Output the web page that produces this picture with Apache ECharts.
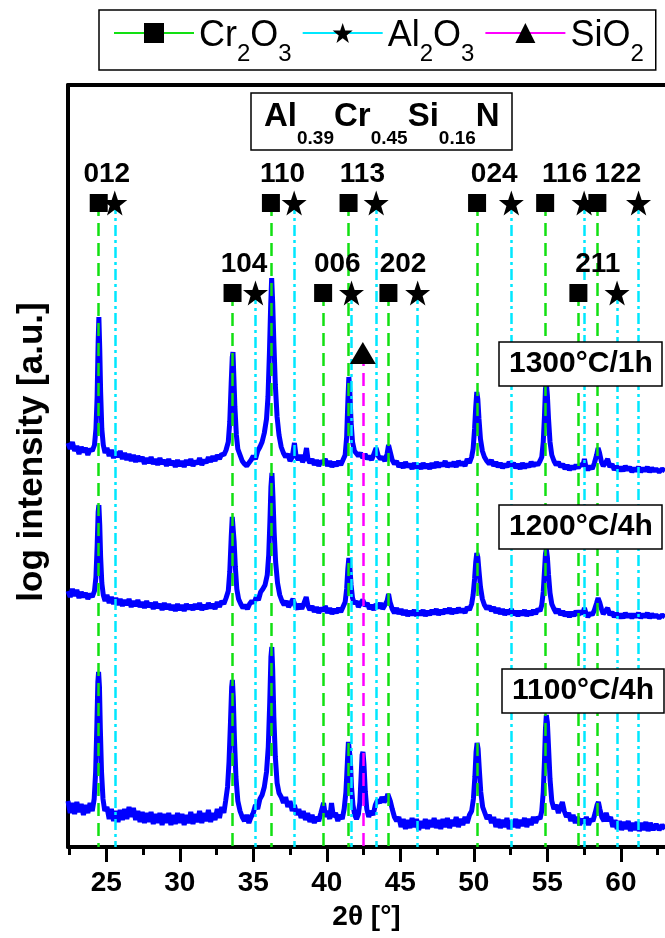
<!DOCTYPE html>
<html lang="en">
<head>
    <meta charset="UTF-8">
    <title>xrd_alcrsin</title>
    <style type="text/css">
        html, body { margin: 0; padding: 0; background: #fff; }
        #box { width: 665px; height: 938px; }
    </style>
</head>
<body>
<div id="box"></div>
<script type="text/javascript" src="https://cdn.jsdelivr.net/npm/echarts@6/dist/echarts.min.js"></script>
<script type="text/javascript">
    // reflex positions (2theta, deg)
    const upperHkl = ['012', '110', '113', '024', '116', '122'];
    const upperCr = [24.49, 36.20, 41.48, 50.22, 54.85, 58.40];
    const upperAl = [25.58, 37.78, 43.36, 52.55, 57.50, 61.20];
    const lowerHkl = ['104', '006', '202', '211'];
    const lowerCr = [33.59, 39.75, 44.19, 57.11];
    const lowerAl = [35.15, 41.68, 46.18, 59.74];
    const siO2Peaks = [42.45];

    const phaseNames = ['Cr2O3', 'Al2O3', 'SiO2'];
    const sampleNames = ['1300°C/1h', '1200°C/4h', '1100°C/4h'];
    const coating = 'Al0.39Cr0.45Si0.16N';
    const xTicks = [25, 30, 35, 40, 45, 50, 55, 60];
    const xMinorTicks = [22.5, 27.5, 32.5, 37.5, 42.5, 47.5, 52.5, 57.5, 62.5];

    // patterns, [2theta, shifted log intensity]
    const c1300 = [[22.40,404],[22.55,398],[22.70,405],[22.85,396],[23.00,401],[23.15,393],[23.30,400],[23.45,395],[23.60,399],[23.75,392],[23.90,398],[24.05,396],[24.20,402],[24.30,418],[24.38,450],[24.45,505],[24.50,530],[24.56,498],[24.62,455],[24.70,418],[24.80,402],[24.92,394],[25.05,399],[25.20,391],[25.35,397],[25.50,389],[25.65,395],[25.80,390],[25.95,396],[26.10,388],[26.25,394],[26.40,387],[26.55,393],[26.70,386],[26.85,392],[27.00,385],[27.15,391],[27.30,386],[27.45,390],[27.60,383],[27.75,389],[27.90,384],[28.05,390],[28.20,383],[28.35,388],[28.50,382],[28.65,389],[28.80,383],[28.95,387],[29.10,381],[29.25,388],[29.40,382],[29.55,386],[29.70,380],[29.85,387],[30.00,381],[30.15,386],[30.30,380],[30.45,387],[30.60,382],[30.75,388],[30.90,381],[31.05,386],[31.20,383],[31.35,389],[31.50,382],[31.65,387],[31.80,384],[31.95,390],[32.10,385],[32.25,391],[32.40,386],[32.55,392],[32.70,388],[32.85,393],[33.00,392],[33.15,397],[33.30,405],[33.40,425],[33.50,465],[33.57,490],[33.62,495],[33.68,470],[33.75,440],[33.85,412],[33.95,398],[34.10,392],[34.25,386],[34.40,383],[34.55,381],[34.70,384],[34.85,387],[35.00,391],[35.15,388],[35.30,396],[35.45,400],[35.60,405],[35.75,414],[35.90,428],[36.00,450],[36.10,495],[36.18,540],[36.25,569],[36.32,545],[36.40,505],[36.50,462],[36.62,430],[36.75,412],[36.90,400],[37.05,394],[37.20,390],[37.35,393],[37.50,386],[37.65,390],[37.80,404],[37.90,392],[38.05,387],[38.20,392],[38.35,385],[38.50,389],[38.62,399],[38.72,388],[38.85,384],[39.00,388],[39.15,382],[39.30,387],[39.45,381],[39.60,386],[39.75,384],[39.90,388],[40.05,381],[40.20,386],[40.35,380],[40.50,385],[40.65,381],[40.80,386],[40.95,382],[41.10,387],[41.25,392],[41.35,410],[41.43,445],[41.50,470],[41.57,455],[41.65,425],[41.75,405],[41.88,396],[42.00,398],[42.15,391],[42.30,394],[42.45,389],[42.60,393],[42.75,388],[42.90,391],[43.05,387],[43.20,393],[43.35,399],[43.50,391],[43.65,388],[43.80,390],[43.95,386],[44.10,393],[44.20,402],[44.30,396],[44.45,387],[44.60,383],[44.75,386],[44.90,380],[45.05,384],[45.20,379],[45.35,385],[45.50,380],[45.65,383],[45.80,378],[45.95,384],[46.10,379],[46.25,383],[46.40,378],[46.55,384],[46.70,379],[46.85,383],[47.00,378],[47.15,384],[47.30,379],[47.45,385],[47.60,380],[47.75,384],[47.90,381],[48.05,386],[48.20,380],[48.35,384],[48.50,381],[48.65,385],[48.80,380],[48.95,386],[49.10,382],[49.25,385],[49.40,381],[49.55,388],[49.70,384],[49.85,390],[49.95,398],[50.05,418],[50.13,440],[50.20,455],[50.27,448],[50.35,428],[50.45,408],[50.58,396],[50.72,390],[50.88,386],[51.05,383],[51.20,387],[51.35,381],[51.50,385],[51.65,380],[51.80,384],[51.95,379],[52.10,383],[52.25,380],[52.40,385],[52.55,381],[52.70,384],[52.85,379],[53.00,383],[53.15,378],[53.30,384],[53.45,379],[53.60,383],[53.75,380],[53.90,385],[54.05,381],[54.20,384],[54.35,382],[54.50,386],[54.62,390],[54.72,405],[54.80,430],[54.87,458],[54.93,464],[55.00,452],[55.08,428],[55.18,405],[55.30,392],[55.45,386],[55.60,382],[55.75,385],[55.90,380],[56.05,383],[56.20,378],[56.35,382],[56.50,377],[56.65,381],[56.80,378],[56.95,382],[57.10,379],[57.25,383],[57.40,381],[57.52,388],[57.62,380],[57.75,377],[57.90,381],[58.05,378],[58.20,384],[58.35,392],[58.45,399],[58.55,394],[58.68,385],[58.80,381],[58.95,384],[59.10,388],[59.25,380],[59.40,383],[59.55,377],[59.70,381],[59.85,376],[60.00,380],[60.15,376],[60.30,381],[60.45,377],[60.60,380],[60.75,375],[60.90,379],[61.05,376],[61.20,380],[61.35,375],[61.50,379],[61.65,376],[61.80,380],[61.95,375],[62.10,379],[62.25,376],[62.40,378],[62.60,375],[62.80,378],[63.00,376]];

    const c1200 = [[22.40,256],[22.55,250],[22.70,258],[22.85,251],[23.00,257],[23.15,249],[23.30,255],[23.45,250],[23.60,254],[23.75,248],[23.90,253],[24.05,250],[24.20,256],[24.30,270],[24.38,300],[24.45,335],[24.50,342],[24.56,322],[24.62,290],[24.70,264],[24.80,252],[24.92,246],[25.05,252],[25.20,244],[25.35,250],[25.50,243],[25.65,249],[25.80,242],[25.95,248],[26.10,241],[26.25,247],[26.40,242],[26.55,248],[26.70,240],[26.85,246],[27.00,241],[27.15,247],[27.30,240],[27.45,245],[27.60,239],[27.75,246],[27.90,240],[28.05,244],[28.20,238],[28.35,245],[28.50,239],[28.65,243],[28.80,237],[28.95,244],[29.10,238],[29.25,243],[29.40,237],[29.55,242],[29.70,236],[29.85,243],[30.00,237],[30.15,242],[30.30,236],[30.45,243],[30.60,238],[30.75,242],[30.90,237],[31.05,243],[31.20,238],[31.35,244],[31.50,237],[31.65,242],[31.80,238],[31.95,244],[32.10,239],[32.25,243],[32.40,238],[32.55,245],[32.70,240],[32.85,246],[33.00,243],[33.15,249],[33.30,256],[33.40,275],[33.50,310],[33.57,330],[33.63,332],[33.70,305],[33.78,280],[33.88,258],[34.00,248],[34.15,243],[34.30,239],[34.45,242],[34.60,238],[34.75,243],[34.90,246],[35.05,244],[35.20,250],[35.35,247],[35.50,255],[35.65,258],[35.80,262],[35.95,272],[36.05,292],[36.13,325],[36.20,360],[36.27,374],[36.34,350],[36.42,315],[36.52,285],[36.65,264],[36.80,252],[36.95,246],[37.10,242],[37.25,246],[37.40,240],[37.55,244],[37.70,248],[37.85,241],[38.00,238],[38.15,243],[38.30,238],[38.45,244],[38.60,250],[38.72,241],[38.85,237],[39.00,241],[39.15,235],[39.30,240],[39.45,234],[39.60,239],[39.75,236],[39.90,241],[40.05,234],[40.20,239],[40.35,233],[40.50,238],[40.65,234],[40.80,239],[40.95,235],[41.10,240],[41.25,245],[41.35,258],[41.43,278],[41.50,289],[41.57,280],[41.65,262],[41.75,249],[41.88,243],[42.00,246],[42.15,240],[42.30,244],[42.45,247],[42.60,241],[42.75,244],[42.90,238],[43.05,242],[43.20,237],[43.35,243],[43.50,239],[43.65,244],[43.80,238],[43.95,242],[44.10,246],[44.20,253],[44.30,245],[44.45,238],[44.60,234],[44.75,239],[44.90,233],[45.05,238],[45.20,232],[45.35,237],[45.50,231],[45.65,236],[45.80,232],[45.95,237],[46.10,231],[46.25,236],[46.40,232],[46.55,237],[46.70,231],[46.85,236],[47.00,232],[47.15,237],[47.30,233],[47.45,238],[47.60,232],[47.75,237],[47.90,233],[48.05,238],[48.20,234],[48.35,239],[48.50,233],[48.65,238],[48.80,234],[48.95,239],[49.10,235],[49.25,238],[49.40,234],[49.55,240],[49.70,237],[49.85,243],[49.95,252],[50.05,268],[50.13,285],[50.20,294],[50.27,290],[50.35,276],[50.45,260],[50.58,248],[50.72,242],[50.88,238],[51.05,241],[51.20,236],[51.35,240],[51.50,234],[51.65,239],[51.80,233],[51.95,238],[52.10,232],[52.25,237],[52.40,233],[52.55,238],[52.70,232],[52.85,236],[53.00,231],[53.15,236],[53.30,232],[53.45,237],[53.60,231],[53.75,236],[53.90,232],[54.05,237],[54.20,233],[54.35,238],[54.50,236],[54.62,242],[54.72,255],[54.80,275],[54.87,293],[54.93,298],[55.00,290],[55.08,272],[55.18,254],[55.30,243],[55.45,238],[55.60,234],[55.75,238],[55.90,232],[56.05,236],[56.20,231],[56.35,235],[56.50,230],[56.65,235],[56.80,231],[56.95,236],[57.10,232],[57.25,236],[57.40,233],[57.52,239],[57.62,234],[57.75,230],[57.90,234],[58.05,232],[58.20,237],[58.35,244],[58.45,249],[58.55,245],[58.68,238],[58.80,233],[58.95,236],[59.10,239],[59.25,232],[59.40,235],[59.55,230],[59.70,234],[59.85,229],[60.00,233],[60.15,229],[60.30,234],[60.45,230],[60.60,233],[60.75,229],[60.90,233],[61.05,230],[61.20,234],[61.35,229],[61.50,233],[61.65,230],[61.80,234],[61.95,229],[62.10,233],[62.25,230],[62.40,232],[62.60,229],[62.80,232],[63.00,230]];

    const c1100 = [[22.40,46],[22.55,34],[22.70,44],[22.85,33],[23.00,45],[23.15,35],[23.30,43],[23.45,32],[23.60,42],[23.75,34],[23.90,44],[24.05,36],[24.18,48],[24.28,75],[24.36,120],[24.43,165],[24.48,175],[24.54,160],[24.60,118],[24.68,75],[24.78,48],[24.90,36],[25.05,40],[25.20,28],[25.35,38],[25.50,26],[25.65,36],[25.80,25],[25.95,37],[26.10,27],[26.25,38],[26.40,28],[26.55,40],[26.70,30],[26.85,39],[27.00,27],[27.15,36],[27.30,25],[27.45,35],[27.60,24],[27.75,34],[27.90,25],[28.05,35],[28.20,23],[28.35,33],[28.50,24],[28.65,34],[28.80,22],[28.95,33],[29.10,24],[29.25,34],[29.40,22],[29.55,32],[29.70,23],[29.85,34],[30.00,24],[30.15,33],[30.30,22],[30.45,32],[30.60,24],[30.75,35],[30.90,23],[31.05,33],[31.20,25],[31.35,36],[31.50,24],[31.65,34],[31.80,26],[31.95,37],[32.10,25],[32.25,34],[32.40,27],[32.55,38],[32.70,29],[32.85,40],[33.00,34],[33.12,46],[33.25,60],[33.35,85],[33.45,125],[33.53,160],[33.58,167],[33.64,150],[33.72,108],[33.82,70],[33.95,46],[34.10,36],[34.25,30],[34.40,26],[34.55,32],[34.70,24],[34.85,30],[35.00,34],[35.15,42],[35.30,38],[35.45,48],[35.60,52],[35.75,60],[35.90,75],[36.02,100],[36.12,145],[36.20,190],[36.26,200],[36.32,178],[36.40,130],[36.50,90],[36.62,64],[36.75,54],[36.90,50],[37.05,44],[37.20,50],[37.35,40],[37.50,46],[37.65,36],[37.80,42],[37.95,32],[38.10,38],[38.25,29],[38.40,36],[38.55,27],[38.70,34],[38.85,25],[39.00,32],[39.15,24],[39.30,30],[39.45,26],[39.60,34],[39.78,44],[39.92,30],[40.05,36],[40.20,28],[40.32,44],[40.45,30],[40.60,34],[40.75,26],[40.90,32],[41.05,28],[41.18,38],[41.30,55],[41.40,85],[41.47,105],[41.53,107],[41.60,88],[41.68,60],[41.78,42],[41.90,32],[42.02,28],[42.15,33],[42.25,45],[42.33,70],[42.40,92],[42.46,95],[42.53,82],[42.62,55],[42.72,38],[42.85,30],[43.00,36],[43.15,32],[43.30,42],[43.45,47],[43.60,44],[43.75,50],[43.90,45],[44.05,48],[44.15,53],[44.22,55],[44.32,46],[44.45,38],[44.60,30],[44.75,26],[44.90,30],[45.05,20],[45.20,28],[45.35,18],[45.50,27],[45.65,19],[45.80,29],[45.95,20],[46.10,28],[46.25,17],[46.40,26],[46.55,19],[46.70,28],[46.85,18],[47.00,27],[47.15,20],[47.30,29],[47.45,19],[47.60,27],[47.75,18],[47.90,28],[48.05,20],[48.20,29],[48.35,19],[48.50,27],[48.65,21],[48.80,30],[48.95,20],[49.10,28],[49.25,22],[49.40,30],[49.55,24],[49.70,32],[49.85,36],[49.97,48],[50.07,70],[50.15,95],[50.22,104],[50.29,98],[50.37,78],[50.47,55],[50.60,40],[50.75,34],[50.90,28],[51.05,32],[51.20,24],[51.35,30],[51.50,20],[51.65,28],[51.80,19],[51.95,27],[52.10,20],[52.25,29],[52.40,18],[52.55,26],[52.70,20],[52.85,28],[53.00,19],[53.15,27],[53.30,21],[53.45,29],[53.60,20],[53.75,28],[53.90,22],[54.05,30],[54.20,24],[54.35,30],[54.50,28],[54.62,36],[54.72,55],[54.80,85],[54.87,118],[54.93,132],[55.00,125],[55.08,100],[55.18,68],[55.30,46],[55.45,38],[55.60,42],[55.75,34],[55.90,40],[56.02,45],[56.15,36],[56.30,30],[56.45,34],[56.60,26],[56.75,32],[56.90,24],[57.05,30],[57.20,22],[57.35,28],[57.50,24],[57.65,30],[57.80,22],[57.95,28],[58.10,26],[58.25,34],[58.38,42],[58.47,45],[58.57,38],[58.70,30],[58.85,26],[59.00,34],[59.15,26],[59.30,30],[59.45,20],[59.60,27],[59.75,18],[59.90,26],[60.05,17],[60.20,25],[60.35,18],[60.50,26],[60.65,16],[60.80,24],[60.95,17],[61.10,25],[61.25,16],[61.40,24],[61.55,17],[61.70,25],[61.85,16],[62.00,24],[62.20,17],[62.40,23],[62.60,17],[62.80,22],[63.00,18]];

    const FONT = '"Liberation Sans", Arial, Helvetica, sans-serif';
    const STAR = 'path://M12,0 L14.9,8.3 L23.6,8.3 L16.6,13.5 L19.2,21.8 L12,16.7 L4.8,21.8 L7.4,13.5 L0.4,8.3 L9.1,8.3 Z';
    const UPPER_ROW = 644, LOWER_ROW = 554, SIO2_ROW = 494;
    const GREEN = '#12e012', CYAN = '#00e8ff', MAGENTA = '#ff00ff';

    // chemistry text -> rich text with subscripts
    function subs(txt) {
        return txt.split(/([\d.]+)/).filter(Boolean).map(function (p) {
            return /^[\d.]+$/.test(p) ? '{s|' + p + '}' : '{m|' + p + '}';
        }).join('');
    }

    function vLines(xs, top) {
        return xs.map(function (x) {
            return [{coord: [x, top]}, {coord: [x, 0]}];
        });
    }

    function initChart() {
        let myChart = echarts.init(document.getElementById('box'));

        let hklData = upperHkl.map(function (h, i) {
            return {value: [(upperCr[i] + upperAl[i]) / 2, UPPER_ROW], name: h};
        }).concat(lowerHkl.map(function (h, i) {
            return {value: [(lowerCr[i] + lowerAl[i]) / 2, LOWER_ROW], name: h};
        }));

        let sampleBoxes = [[499, 342], [499, 505], [502, 669]];

        let titles = [{
            text: subs(coating),
            left: 251, top: 93,
            borderColor: '#000', borderWidth: 1.5,
            padding: [3, 13, 2, 13],
            textStyle: {
                rich: {
                    m: {fontFamily: FONT, fontSize: 33, fontWeight: 'bold', color: '#000',
                        lineHeight: 36, verticalAlign: 'top', padding: [4, 0, 0, 0]},
                    s: {fontFamily: FONT, fontSize: 19, fontWeight: 'bold', color: '#000',
                        lineHeight: 19, verticalAlign: 'top', padding: [33, 0, 0, 0]}
                }
            }
        }].concat(sampleNames.map(function (s, i) {
            return {
                text: s,
                left: sampleBoxes[i][0], top: sampleBoxes[i][1],
                backgroundColor: '#fff',
                borderColor: '#000', borderWidth: 1.5,
                padding: [7, 10, 7, 10],
                textStyle: {fontFamily: FONT, fontSize: 30, fontWeight: 'bold', color: '#000', lineHeight: 30}
            };
        }));

        let option = {
            animation: false,
            title: titles,
            legend: {
                data: phaseNames,
                left: 99, top: 10,
                padding: [4, 12, 4, 14],
                itemGap: 10,
                itemWidth: 80,
                itemHeight: 25,
                borderColor: '#000', borderWidth: 1.5,
                selectedMode: false,
                formatter: function (name) { return subs(name); },
                textStyle: {
                    rich: {
                        m: {fontFamily: FONT, fontSize: 36, color: '#000', lineHeight: 38,
                            verticalAlign: 'top', padding: [4, 0, 0, 0]},
                        s: {fontFamily: FONT, fontSize: 24, color: '#000', lineHeight: 24,
                            verticalAlign: 'top', padding: [28, 0, 0, 0]}
                    }
                }
            },
            grid: {left: 68, top: 85, bottom: 91, right: -16, containLabel: false},
            xAxis: [{
                type: 'value', min: 22.4, max: 63, position: 'bottom',
                name: '2θ [°]', nameLocation: 'middle', nameGap: 56,
                nameTextStyle: {fontFamily: FONT, fontSize: 28, fontWeight: 'bold', color: '#000'},
                axisLine: {onZero: false, lineStyle: {color: '#000', width: 4}},
                axisTick: {customValues: xTicks, length: 15, lineStyle: {color: '#000', width: 3}},
                axisLabel: {customValues: xTicks, margin: 22, fontFamily: FONT, fontSize: 28,
                    fontWeight: 'bold', color: '#000'},
                splitLine: {show: false}
            }, {
                type: 'value', min: 22.4, max: 63, position: 'bottom',
                axisLine: {show: false},
                axisTick: {customValues: xMinorTicks, length: 8, lineStyle: {color: '#000', width: 3}},
                axisLabel: {show: false},
                splitLine: {show: false}
            }, {
                type: 'value', min: 22.4, max: 63, position: 'top',
                axisLine: {onZero: false, lineStyle: {color: '#000', width: 4}},
                axisTick: {show: false}, axisLabel: {show: false}, splitLine: {show: false}
            }],
            yAxis: {
                type: 'value', min: 0, max: 762,
                name: 'log intensity [a.u.]', nameLocation: 'middle', nameGap: 18, nameRotate: 90,
                nameTextStyle: {fontFamily: FONT, fontSize: 35, fontWeight: 'bold', color: '#000',
                    padding: [0, 0, 0, 28]},
                axisLine: {show: true, onZero: false, lineStyle: {color: '#000', width: 4}},
                axisTick: {show: false}, axisLabel: {show: false}, splitLine: {show: false}
            },
            series: [
                {
                    name: 'Cr2O3', type: 'line', data: [], symbol: 'rect', z: 2,
                    itemStyle: {color: '#000'}, lineStyle: {color: GREEN, width: 3},
                    markLine: {
                        silent: true, symbol: ['none', 'none'], label: {show: false},
                        lineStyle: {color: GREEN, width: 2.5, type: [13, 7]},
                        data: vLines(upperCr, UPPER_ROW).concat(vLines(lowerCr, LOWER_ROW))
                    }
                },
                {
                    name: 'Al2O3', type: 'line', data: [], symbol: STAR, z: 2,
                    itemStyle: {color: '#000'}, lineStyle: {color: CYAN, width: 3},
                    markLine: {
                        silent: true, symbol: ['none', 'none'], label: {show: false},
                        lineStyle: {color: CYAN, width: 2.5, type: [11, 4, 3, 4]},
                        data: vLines(upperAl, UPPER_ROW).concat(vLines(lowerAl, LOWER_ROW))
                    }
                },
                {
                    name: 'SiO2', type: 'line', data: [], symbol: 'triangle', z: 2,
                    itemStyle: {color: '#000'}, lineStyle: {color: MAGENTA, width: 3},
                    markLine: {
                        silent: true, symbol: ['none', 'none'], label: {show: false},
                        lineStyle: {color: MAGENTA, width: 2.5, type: [13, 7]},
                        data: vLines(siO2Peaks, SIO2_ROW)
                    }
                },
                {
                    name: sampleNames[0], type: 'line', data: c1300, showSymbol: false, z: 3, silent: true,
                    lineStyle: {color: '#0000ff', width: 5}
                },
                {
                    name: sampleNames[1], type: 'line', data: c1200, showSymbol: false, z: 3, silent: true,
                    lineStyle: {color: '#0000ff', width: 5}
                },
                {
                    name: sampleNames[2], type: 'line', data: c1100, showSymbol: false, z: 3, silent: true,
                    lineStyle: {color: '#0000ff', width: 5}
                },
                {
                    type: 'scatter', symbol: 'rect', symbolSize: 18, z: 5, silent: true,
                    itemStyle: {color: '#000', opacity: 1},
                    data: upperCr.map(function (x) { return [x, UPPER_ROW]; })
                        .concat(lowerCr.map(function (x) { return [x, LOWER_ROW]; }))
                },
                {
                    type: 'scatter', symbol: STAR, symbolSize: 25, z: 5, silent: true,
                    itemStyle: {color: '#000', opacity: 1},
                    data: upperAl.map(function (x) { return [x, UPPER_ROW]; })
                        .concat(lowerAl.map(function (x) { return [x, LOWER_ROW]; }))
                },
                {
                    type: 'scatter', symbol: 'triangle', symbolSize: [26, 22], z: 5, silent: true,
                    itemStyle: {color: '#000', opacity: 1},
                    data: siO2Peaks.map(function (x) { return [x, SIO2_ROW]; })
                },
                {
                    type: 'scatter', symbolSize: 1, z: 5, silent: true,
                    itemStyle: {color: 'rgba(0,0,0,0)', opacity: 1},
                    label: {
                        show: true, position: 'inside', offset: [0, -29],
                        formatter: '{b}',
                        fontFamily: FONT, fontSize: 28, fontWeight: 'bold', color: '#000'
                    },
                    data: hklData
                }
            ]
        };
        myChart.setOption(option);
    }

    initChart();
</script>
</body>
</html>
